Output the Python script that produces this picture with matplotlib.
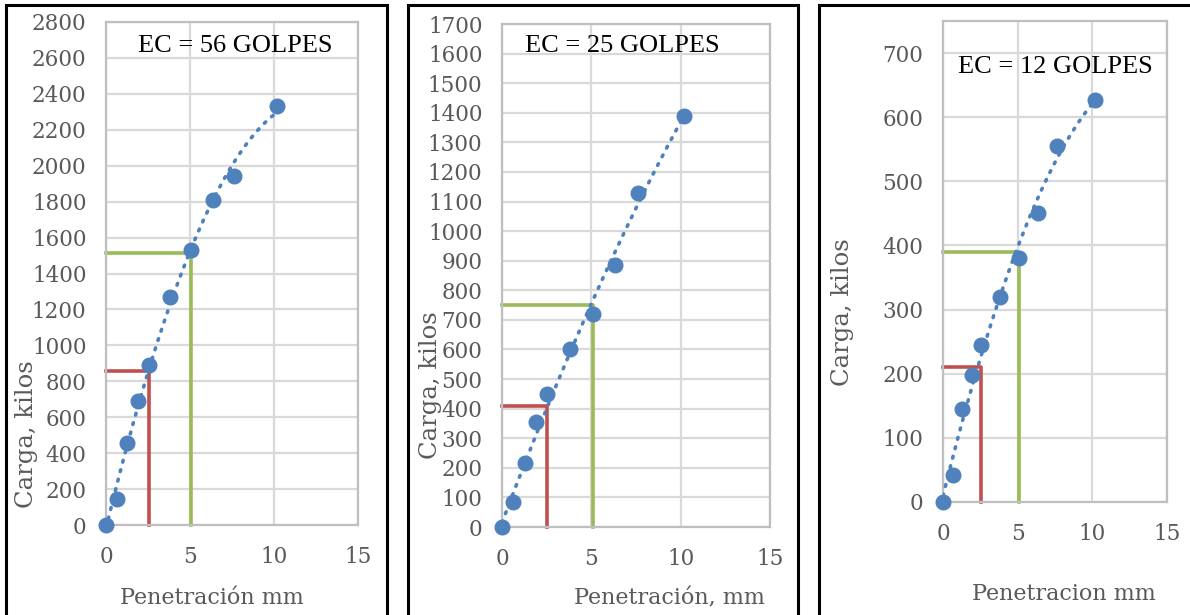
import numpy as np
import matplotlib
matplotlib.use("Agg")
import matplotlib.pyplot as plt
from matplotlib.patches import Rectangle

# penetration readings (mm), same for the three specimens
penetracion = [0, 0.64, 1.27, 1.91, 2.54, 3.81, 5.08, 6.35, 7.62, 10.16]

carga_56 = [0, 145, 455, 690, 890, 1270, 1530, 1810, 1945, 2330]
carga_25 = [0, 85, 215, 355, 450, 600, 720, 885, 1130, 1390]
carga_12 = [0, 42, 145, 198, 245, 320, 380, 450, 555, 627]

# loads read at 2.54 mm (red) and 5.08 mm (green)
ref_x = [2.54, 5.08]
ref_56 = [860, 1515]
ref_25 = [410, 750]
ref_12 = [210, 390]

titulos = ["EC = 56 GOLPES", "EC = 25 GOLPES", "EC = 12 GOLPES"]
xlabels = ["Penetración mm", "Penetración, mm", "Penetracion mm"]
ylims = [2800, 1700, 750]
ysteps = [200, 100, 100]
ytickmax = [2800, 1700, 700]

W, H = 1190, 615
BLUE = "#4F81BD"
RED = "#C0504D"
GREEN = "#9BBB59"
GRAY = "#595959"
GRID = "#D9D9D9"

plt.rcParams["font.family"] = ["DejaVu Serif"]

fig = plt.figure(figsize=(W / 100, H / 100), dpi=100)

def px_axes(x0, x1, ytop, ybot):
    return fig.add_axes([x0 / W, 1 - ybot / H, (x1 - x0) / W, (ybot - ytop) / H])

# panel frames (pixel coords)
frames = [(6, 387), (408, 798), (819, 1195)]
for fx0, fx1 in frames:
    fig.patches.append(Rectangle((fx0 / W, -0.05), (fx1 - fx0) / W, 1.05 - 5 / H,
                                 transform=fig.transFigure, fill=False,
                                 edgecolor="black", lw=2.2))

boxes = [(106, 358, 22, 525), (502, 770, 24, 527), (943, 1167, 21, 502)]
cargas = [carga_56, carga_25, carga_12]
refs = [ref_56, ref_25, ref_12]
title_px = [(138, 46), (525, 46), (958, 67)]
ylab_px = [(27, 434), (430, 385), (842, 312)]
xlab_px = [(212, 598), (669, 598), (1064, 594)]

for i in range(3):
    x0, x1, yt, yb = boxes[i]
    ax = px_axes(x0, x1, yt, yb)
    ax.set_xlim(0, 15)
    ax.set_ylim(0, ylims[i])
    ax.set_xticks([0, 5, 10, 15])
    ax.set_yticks(np.arange(0, ytickmax[i] + 1, ysteps[i]))
    ax.grid(True, color=GRID, lw=1.6)
    ax.set_axisbelow(True)
    for sp in ax.spines.values():
        sp.set_color("#BFBFBF")
        sp.set_linewidth(1.6)
    ax.tick_params(length=0, colors=GRAY, labelsize=15.5, pad=14)
    ax.tick_params(axis="x", pad=15)

    # reference lines
    rx, ry = ref_x[0], refs[i][0]
    ax.plot([0, rx, rx], [ry, ry, 0], color=RED, lw=2.6, zorder=2, clip_on=False)
    gx, gy = ref_x[1], refs[i][1]
    ax.plot([0, gx, gx], [gy, gy, 0], color=GREEN, lw=2.6, zorder=2, clip_on=False)

    # polynomial trend line
    coef = np.polyfit(penetracion, cargas[i], 2)
    xx = np.linspace(0, max(penetracion), 200)
    ax.plot(xx, np.polyval(coef, xx), color=BLUE, lw=2.6,
            linestyle=(0, (0.5, 2.2)), dash_capstyle="round", zorder=3)

    ax.plot(penetracion, cargas[i], "o", color=BLUE, ms=10.5, mec=BLUE,
            zorder=4, clip_on=False)

    tx, ty = title_px[i]
    fig.text(tx / W, 1 - ty / H, titulos[i], fontsize=19, color="black",
             family="Liberation Serif", va="center", ha="left", zorder=5)

    lx, ly = ylab_px[i]
    fig.text(lx / W, 1 - ly / H, "Carga, kilos", rotation=90, ha="center",
             va="center", fontsize=17.5, color=GRAY)
    bx, by = xlab_px[i]
    fig.text(bx / W, 1 - by / H, xlabels[i], ha="center", va="center",
             fontsize=16, color=GRAY)

fig.savefig("out.png", dpi=100)
